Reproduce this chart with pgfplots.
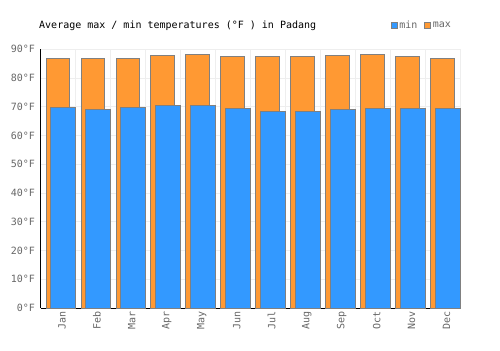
\documentclass[border=0pt]{standalone}
\usepackage{pgfplots}
\pgfplotsset{compat=1.18}
\usepackage{fontspec}
\setmainfont{DejaVu Sans Mono}
\setmonofont{DejaVu Sans Mono}
\definecolor{minc}{HTML}{3399FF}
\definecolor{maxc}{HTML}{FF9933}
\definecolor{edgec}{HTML}{808080}
\definecolor{tickc}{HTML}{666666}
\definecolor{gridc}{HTML}{EEEEEE}
\begin{document}
\begin{tikzpicture}[x=1bp,y=1bp]
\useasboundingbox (0,0) rectangle (500,350);
\begin{axis}[
  at={(40.5bp,42bp)}, anchor=south west,
  scale only axis, width=419.5bp, height=258.7bp,
  xmin=-0.5, xmax=11.5, ymin=0, ymax=90,
  xtick={0,...,11},
  xticklabels={Jan,Feb,Mar,Apr,May,Jun,Jul,Aug,Sep,Oct,Nov,Dec},
  minor xtick={-0.5,0.5,...,11.5},
  ytick={0,10,...,90},
  yticklabel={\pgfmathprintnumber{\tick}°F},
  /pgf/number format/assume math mode=true,
  xmajorgrids=false, xminorgrids=true, ymajorgrids=true,
  grid style={gridc, line width=1bp},
  minor grid style={gridc, line width=1bp},
  major tick length=0pt, minor tick length=0pt,
  axis x line*=bottom, axis y line*=left,
  axis line style={black, line width=1bp, -},
  x tick label style={rotate=90, anchor=east, text=tickc, font=\fontsize{10bp}{12bp}\selectfont},
  y tick label style={text=tickc, font=\fontsize{10bp}{12bp}\selectfont},
  xticklabel style={yshift=-4bp},
  yticklabel style={xshift=-2bp},
  clip=false,
  legend style={at={(1,1)}, anchor=south east, xshift=-7bp, yshift=17bp, draw=none, fill=none,
    font=\fontsize{10bp}{12bp}\selectfont, text=tickc, inner sep=0pt,
    /tikz/every even column/.append style={column sep=5bp}},
  legend columns=2,
  legend image code/.code={\draw[#1, line width=0.8bp] (1bp,-2.5bp) rectangle (6.5bp,3bp);},
]
\addlegendimage{fill=minc, draw=edgec}
\addlegendentry{min}
\addlegendimage{fill=maxc, draw=edgec}
\addlegendentry{max}
\addplot[ybar, bar width=0.68, bar shift=0, fill=maxc, draw=edgec, line width=1bp, forget plot]
  coordinates {(0,86.9) (1,86.9) (2,86.9) (3,87.9) (4,88.3) (5,87.6) (6,87.6) (7,87.6) (8,87.9) (9,88.3) (10,87.6) (11,86.9)};
\addplot[ybar, bar width=0.70, bar shift=0.15, fill=minc, draw=edgec, line width=1bp, forget plot]
  coordinates {(0,69.6) (1,69.2) (2,69.9) (3,70.6) (4,70.3) (5,69.5) (6,68.4) (7,68.4) (8,69.1) (9,69.5) (10,69.5) (11,69.5)};
\node[anchor=base west, font=\fontsize{10bp}{12bp}\selectfont, inner sep=0pt] at (rel axis cs:0,1) [yshift=21bp, xshift=-1.5bp] {Average max / min temperatures (°F ) in Padang};
\end{axis}
\end{tikzpicture}
\end{document}
